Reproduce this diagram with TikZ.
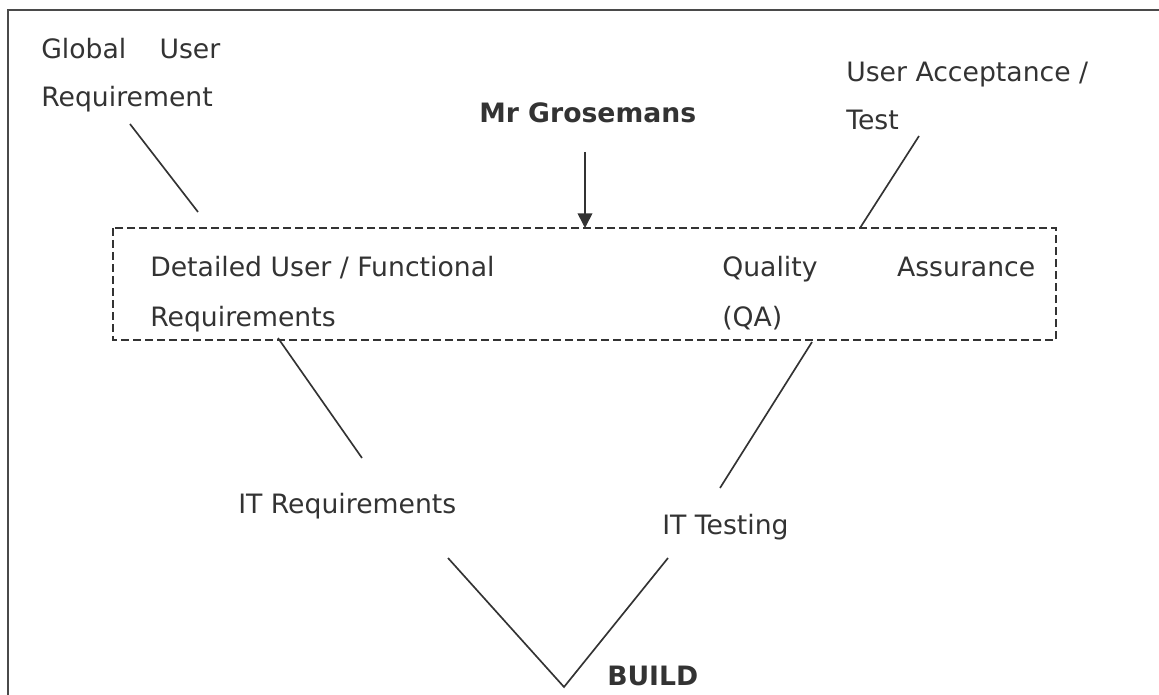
\documentclass[tikz,border=0pt]{standalone}
\usepackage{fontspec}
\setmainfont{DejaVu Sans}
\usetikzlibrary{arrows.meta}
\definecolor{ink}{HTML}{333333}
\definecolor{edge}{HTML}{4a4a4a}

\begin{document}
\begin{tikzpicture}[x=0.75pt,y=-0.75pt,
  lbl/.style={anchor=base west, inner sep=0pt, text=ink, align=left,
              font=\fontsize{20}{36}\selectfont},
  lblwide/.style={lbl, font=\fontsize{20}{37.5}\selectfont},
  bold/.style={lbl, font=\fontsize{20}{36}\selectfont\bfseries},
  link/.style={draw=ink, line width=1.25pt},
  frame/.style={draw=edge, line width=1.6pt},
  groupbox/.style={draw=ink, line width=1pt, dash pattern=on 6pt off 3pt}]

\useasboundingbox (0,0) rectangle (1159,695);
\clip (0,0) rectangle (1159,695);

% outer frame, running past the right and bottom edges
\draw[frame] (8,10) rectangle (1200,740);

% dashed group around the detailed requirements and QA
\draw[groupbox] (113,228) rectangle (1056,340);
\coordinate (boxtop) at (585,228);

% labels (multi-line labels are anchored on their last baseline)
\node[lbl] (glob) at (41,107) {\hbox to 134.25pt{Global\hfill User}\\Requirement};
\node[bold] (mr) at (479,123) {Mr Grosemans};
\node[lbl] (uat) at (846,130) {User Acceptance /\\Test};
\node[lblwide] (det) at (150,326) {Detailed User / Functional\\Requirements};
\node[lblwide] (qa) at (722,326) {\hbox to 234.75pt{Quality\hfill Assurance}\\(QA)};
\node[lbl] (itreq) at (238,513) {IT Requirements};
\node[lbl] (ittest) at (662,534) {IT Testing};
\node[bold] (build) at (607,685) {BUILD};

% connector end points
\coordinate (g1) at (130,124);  \coordinate (g2) at (198,212);
\coordinate (m1) at (585,152);
\coordinate (u1) at (919,136);  \coordinate (u2) at (860,228);
\coordinate (d1) at (278,338);  \coordinate (d2) at (362,458);
\coordinate (q1) at (812,342);  \coordinate (q2) at (720,488);
\coordinate (v1) at (448,558);  \coordinate (v0) at (564,687);
\coordinate (v2) at (668,558);

% connectors
\draw[link] (g1) -- (g2);
\draw[link, -{Triangle[length=11pt,width=11pt]}] (m1) -- (boxtop);
\draw[link] (u1) -- (u2);
\draw[link] (d1) -- (d2);
\draw[link] (q1) -- (q2);
\draw[link] (v1) -- (v0) -- (v2);
\end{tikzpicture}
\end{document}
